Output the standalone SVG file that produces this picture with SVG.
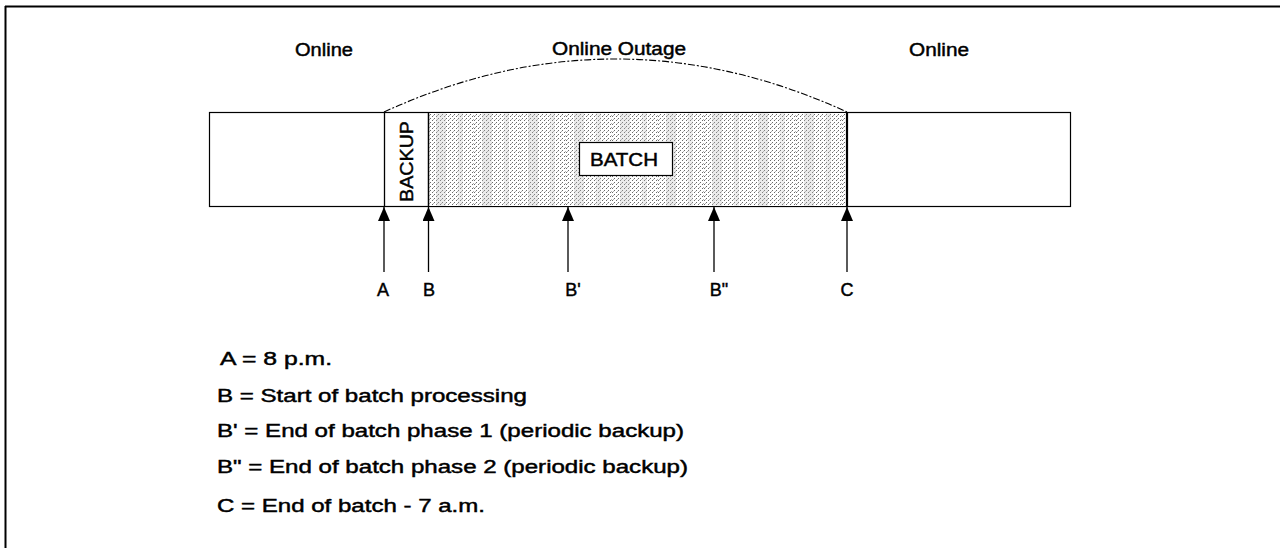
<svg xmlns="http://www.w3.org/2000/svg" width="1280" height="548" viewBox="0 0 1280 548">
<defs>
<style>
.t{font-family:"Liberation Sans",Arial,sans-serif;font-size:18px;fill:#000;stroke:#000;stroke-width:0.45}
.ln{stroke:#000;fill:none}
</style>
<pattern id="dots" x="0" y="0" width="4" height="4" patternUnits="userSpaceOnUse">
<rect width="4" height="4" fill="#fff"/>
<rect x="0" y="0" width="1" height="1" fill="#6a6a6a"/>
<rect x="2" y="2" width="1" height="1" fill="#6a6a6a"/>
<rect x="1" y="3" width="1" height="1" fill="#b0b0b0"/>
</pattern>
<pattern id="stipple" x="428" y="0" width="46" height="4" patternUnits="userSpaceOnUse">
<rect width="46" height="4" fill="url(#dots)"/>
<rect x="8" y="0" width="10" height="4" fill="#bdbdbd" opacity="0.3"/>
<rect x="30" y="0" width="5" height="4" fill="#bdbdbd" opacity="0.25"/>
</pattern>
<marker id="ah" viewBox="0 0 14 12" refX="14" refY="6" markerWidth="14" markerHeight="12" markerUnits="userSpaceOnUse" orient="auto">
<path d="M0,0 L14,6 L0,12 Z" fill="#000"/>
</marker>
</defs>
<rect width="1280" height="548" fill="#fff"/>
<g id="frame">
<line x1="5" y1="6.5" x2="1280" y2="6.5" stroke="#000" stroke-width="2"/>
<line x1="5.5" y1="6" x2="5.5" y2="548" stroke="#000" stroke-width="2"/>
</g>
<g id="top-labels">
<text class="t" x="324" y="56" text-anchor="middle" textLength="58" lengthAdjust="spacingAndGlyphs">Online</text>
<text class="t" x="619" y="55" text-anchor="middle" textLength="134" lengthAdjust="spacingAndGlyphs">Online Outage</text>
<text class="t" x="939" y="56" text-anchor="middle" textLength="60" lengthAdjust="spacingAndGlyphs">Online</text>
</g>
<g id="timeline-bar">
<rect x="209.5" y="112.5" width="861" height="94" fill="#fff" stroke="#000" stroke-width="1.2"/>
<rect x="428" y="113" width="419" height="93" fill="url(#stipple)"/>
<line class="ln" x1="384.5" y1="112" x2="384.5" y2="206" stroke-width="1.3"/>
<line class="ln" x1="428.5" y1="112" x2="428.5" y2="206" stroke-width="1.5"/>
<line class="ln" x1="847" y1="112" x2="847" y2="206" stroke-width="2.2"/>
</g>
<g id="backup">
<text class="t" transform="translate(413,161.5) rotate(-90)" x="0" y="0" text-anchor="middle" font-size="19" textLength="81" lengthAdjust="spacingAndGlyphs">BACKUP</text>
</g>
<g id="batch">
<rect x="579.5" y="142.5" width="93" height="33" fill="#fff" stroke="#000" stroke-width="1.2"/>
<text class="t" x="624" y="166" text-anchor="middle" font-size="19" textLength="68" lengthAdjust="spacingAndGlyphs">BATCH</text>
</g>
<g id="connectors">
<path class="ln" d="M384,112 Q615.5,6 847,112" stroke-width="1.1" stroke-dasharray="7 2 2 2"/>
<line class="ln" x1="384" y1="272" x2="384" y2="207" stroke-width="1.3" marker-end="url(#ah)"/>
<line class="ln" x1="428.5" y1="272" x2="428.5" y2="207" stroke-width="1.3" marker-end="url(#ah)"/>
<line class="ln" x1="568" y1="272" x2="568" y2="207" stroke-width="1.3" marker-end="url(#ah)"/>
<line class="ln" x1="714" y1="272" x2="714" y2="207" stroke-width="1.3" marker-end="url(#ah)"/>
<line class="ln" x1="847" y1="272" x2="847" y2="207" stroke-width="1.3" marker-end="url(#ah)"/>
</g>
<g id="point-labels">
<text class="t" x="383" y="296" text-anchor="middle">A</text>
<text class="t" x="429" y="296" text-anchor="middle">B</text>
<text class="t" x="573" y="296" text-anchor="middle">B'</text>
<text class="t" x="719" y="296" text-anchor="middle">B"</text>
<text class="t" x="847" y="296" text-anchor="middle">C</text>
</g>
<g id="legend">
<text class="t" x="220" y="365" textLength="112" lengthAdjust="spacingAndGlyphs">A = 8 p.m.</text>
<text class="t" x="217" y="402" textLength="310" lengthAdjust="spacingAndGlyphs">B = Start of batch processing</text>
<text class="t" x="217" y="437" textLength="467" lengthAdjust="spacingAndGlyphs">B' = End of batch phase 1 (periodic backup)</text>
<text class="t" x="217" y="473" textLength="471" lengthAdjust="spacingAndGlyphs">B" = End of batch phase 2 (periodic backup)</text>
<text class="t" x="217" y="512" textLength="268" lengthAdjust="spacingAndGlyphs">C = End of batch - 7 a.m.</text>
</g>
</svg>
